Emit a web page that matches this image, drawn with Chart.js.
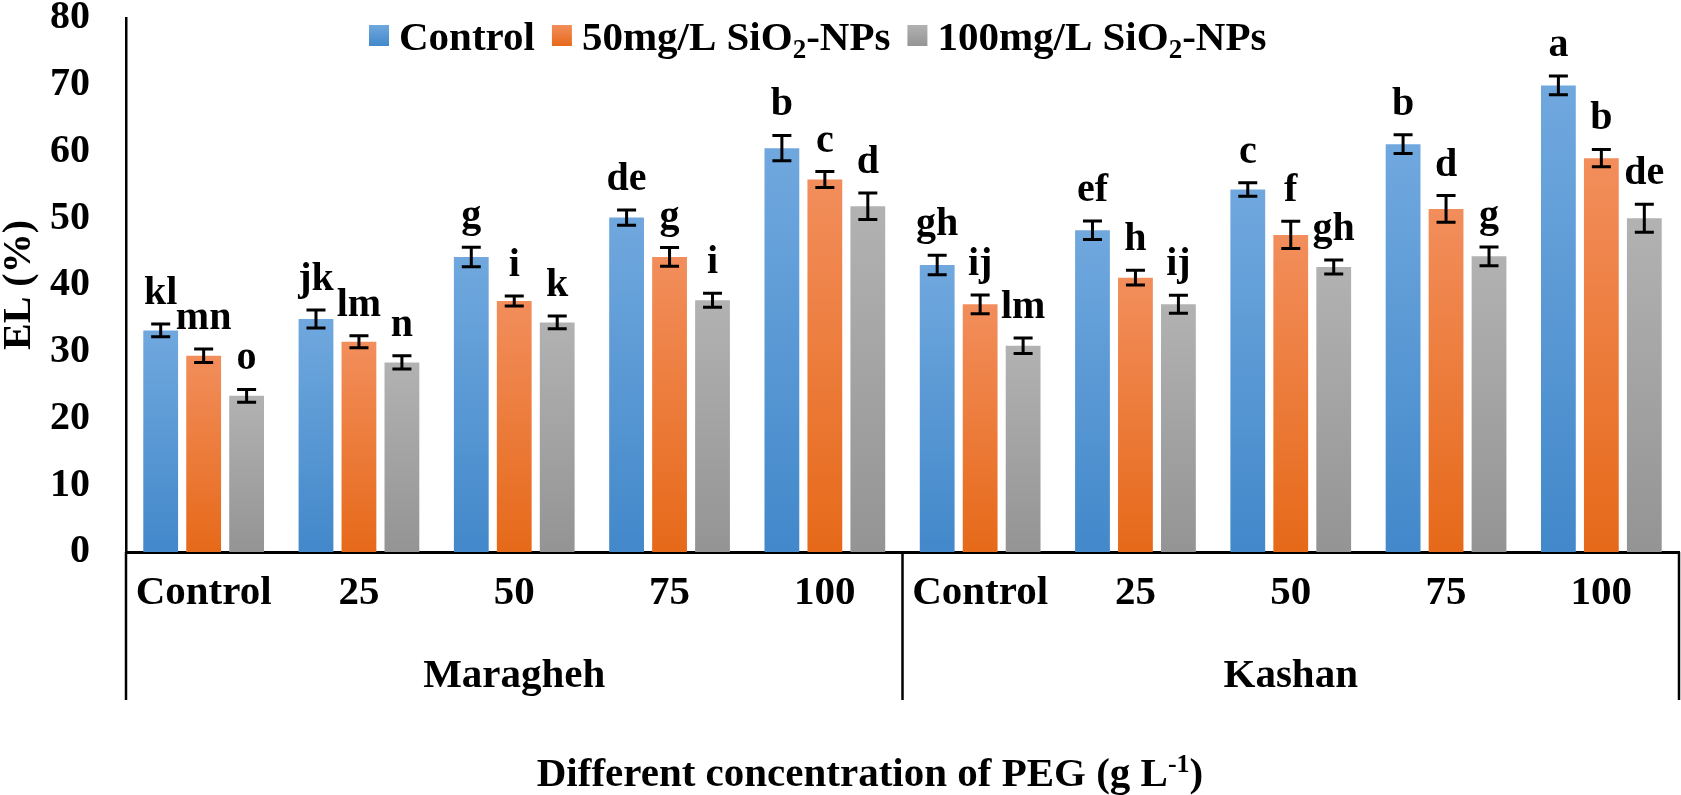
<!DOCTYPE html>
<html>
<head>
<meta charset="utf-8">
<script src="https://cdn.jsdelivr.net/npm/chart.js@4.4.1/dist/chart.umd.min.js"></script>
<style>
  html, body { margin: 0; padding: 0; background: #fff; }
  #wrap { width: 1681px; height: 795px; position: relative; }
</style>
</head>
<body>
<div id="wrap"><canvas id="c"></canvas></div>
<script>
// ---- data ----
const categories = ['Control', '25', '50', '75', '100', 'Control', '25', '50', '75', '100'];
const groups = ['Maragheh', 'Kashan'];
const seriesNames = ['Control', '50mg/L SiO₂-NPs', '100mg/L SiO₂-NPs'];

const controlValues = [33.2, 34.9, 44.2, 50.1, 60.5, 43.0, 48.2, 54.3, 61.1, 69.9];
const np50Values    = [29.4, 31.5, 37.6, 44.2, 55.8, 37.1, 41.1, 47.5, 51.4, 59.0];
const np100Values   = [23.4, 28.4, 34.4, 37.7, 51.8, 30.9, 37.1, 42.7, 44.3, 50.0];

const controlErrors = [0.95, 1.35, 1.45, 1.15, 1.9, 1.45, 1.4, 1.0, 1.4, 1.4];
const np50Errors    = [1.0, 0.9, 0.75, 1.4, 1.2, 1.4, 1.1, 2.05, 2.0, 1.3];
const np100Errors   = [0.95, 1.0, 0.95, 1.05, 2.0, 1.15, 1.35, 1.05, 1.4, 2.1];

const controlLetters = ['kl', 'jk', 'g', 'de', 'b', 'gh', 'ef', 'c', 'b', 'a'];
const np50Letters    = ['mn', 'lm', 'i', 'g', 'c', 'ij', 'h', 'f', 'd', 'b'];
const np100Letters   = ['o', 'n', 'k', 'i', 'd', 'lm', 'ij', 'gh', 'g', 'de'];

const yTitle = 'EL (%)';
const xTitleMain = 'Different concentration of PEG (g L';
const xTitleSup = '-1';
const xTitleEnd = ')';

// ---- styles ----
const FONT = '"Liberation Serif", "Times New Roman", serif';
const colorsTop = ['#70a8de', '#f28e5c', '#b2b2b2'];
const colorsBot = ['#4288ca', '#e66919', '#949494'];
const allValues = [controlValues, np50Values, np100Values];
const allErrors = [controlErrors, np50Errors, np100Errors];
const allLetters = [controlLetters, np50Letters, np100Letters];

function barGradient(i) {
  return function (ctx) {
    const chart = ctx.chart;
    const ys = chart.scales && chart.scales.y;
    if (!chart.chartArea || !ys || ctx.type !== 'data') return colorsBot[i];
    const v = ctx.raw;
    const top = ys.getPixelForValue(v);
    const bot = ys.getPixelForValue(0);
    if (!isFinite(top) || !isFinite(bot) || top === bot) return colorsBot[i];
    const g = chart.ctx.createLinearGradient(0, top, 0, bot);
    g.addColorStop(0, colorsTop[i]);
    g.addColorStop(1, colorsBot[i]);
    return g;
  };
}

function drawSubText(c, text, x, y, size) {
  const parts = text.split('₂');
  let cx = x;
  parts.forEach((p, k) => {
    c.font = 'bold ' + size + 'px ' + FONT;
    c.fillText(p, cx, y);
    cx += c.measureText(p).width;
    if (k < parts.length - 1) {
      const s = Math.round(size * 0.66);
      c.font = 'bold ' + s + 'px ' + FONT;
      c.fillText('2', cx, y + size * 0.2);
      cx += c.measureText('2').width;
    }
  });
  return cx;
}

const decorPlugin = {
  id: 'decor',
  afterDatasetsDraw(chart) {
    const c = chart.ctx;
    const ys = chart.scales.y;
    c.save();
    chart.data.datasets.forEach((ds, i) => {
      const meta = chart.getDatasetMeta(i);
      meta.data.forEach((el, j) => {
        const v = allValues[i][j], e = allErrors[i][j];
        const yt = ys.getPixelForValue(v + e);
        const yb = ys.getPixelForValue(v - e);
        const x = el.x;
        c.strokeStyle = '#000';
        c.lineWidth = 3;
        c.beginPath();
        c.moveTo(x, yt); c.lineTo(x, yb);
        c.moveTo(x - 9.5, yt); c.lineTo(x + 9.5, yt);
        c.moveTo(x - 9.5, yb); c.lineTo(x + 9.5, yb);
        c.stroke();
        c.fillStyle = '#000';
        c.font = 'bold 40px ' + FONT;
        c.textAlign = 'center';
        c.textBaseline = 'alphabetic';
        c.fillText(allLetters[i][j], x, yt - 20);
      });
    });
    c.restore();
  },
  afterDraw(chart) {
    const c = chart.ctx;
    const xs = chart.scales.x;
    const area = chart.chartArea;
    c.save();
    const lineBottom = 700;
    const sep = (xs.getPixelForValue(4) + xs.getPixelForValue(5)) / 2;
    c.strokeStyle = '#000';
    c.lineWidth = 2.5;
    c.beginPath();
    c.moveTo(area.left, area.bottom); c.lineTo(area.left, lineBottom);
    c.moveTo(sep, area.bottom); c.lineTo(sep, lineBottom);
    c.moveTo(area.right, area.bottom); c.lineTo(area.right, lineBottom);
    c.stroke();
    // group labels
    c.fillStyle = '#000';
    c.font = 'bold 41px ' + FONT;
    c.textAlign = 'center';
    c.textBaseline = 'alphabetic';
    groups.forEach((g, k) => {
      const cx = (xs.getPixelForValue(k * 5) + xs.getPixelForValue(k * 5 + 4)) / 2;
      c.fillText(g, cx, 687);
    });
    // x title with superscript
    c.textAlign = 'left';
    c.font = 'bold 41px ' + FONT;
    const w1 = c.measureText(xTitleMain).width;
    c.font = 'bold 26px ' + FONT;
    const w2 = c.measureText(xTitleSup).width;
    c.font = 'bold 41px ' + FONT;
    const w3 = c.measureText(xTitleEnd).width;
    let tx = 870 - (w1 + w2 + w3) / 2;
    c.fillText(xTitleMain, tx, 786); tx += w1;
    c.font = 'bold 26px ' + FONT;
    c.fillText(xTitleSup, tx, 772); tx += w2;
    c.font = 'bold 41px ' + FONT;
    c.fillText(xTitleEnd, tx, 786);
    // legend
    let lx = 369;
    const size = 41;
    seriesNames.forEach((name, i) => {
      const g = c.createLinearGradient(0, 25, 0, 46);
      g.addColorStop(0, colorsTop[i]);
      g.addColorStop(1, colorsBot[i]);
      c.fillStyle = g;
      c.fillRect(lx, 25, 20, 21);
      c.fillStyle = '#000';
      const end = drawSubText(c, name, lx + 30, 50, size);
      lx = end + 17;
    });
    c.restore();
  }
};

const datasets = seriesNames.map((n, i) => ({
  label: n,
  data: allValues[i],
  backgroundColor: barGradient(i),
  borderWidth: 0,
  categoryPercentage: 0.83,
  barPercentage: 0.81
}));

new Chart(document.getElementById('c'), {
  type: 'bar',
  data: { labels: categories, datasets },
  options: {
    responsive: true,
    maintainAspectRatio: false,
    animation: false,
    layout: { padding: { top: 18, right: 2, left: 0, bottom: 0 } },
    plugins: { legend: { display: false }, tooltip: { enabled: false } },
    scales: {
      x: {
        grid: { display: false, drawTicks: false },
        border: { display: true, color: '#000', width: 3 },
        ticks: {
          color: '#000',
          font: { family: FONT, size: 41, weight: 'bold' },
          padding: 17,
          maxRotation: 0,
          autoSkip: false
        },
        afterFit(s) { s.height = 243; s.paddingLeft = 0; s.paddingRight = 0; }
      },
      y: {
        min: 0, max: 80,
        grid: { display: false, drawTicks: false },
        border: { display: true, color: '#000', width: 2.5 },
        ticks: {
          stepSize: 10,
          color: '#000',
          font: { family: FONT, size: 40, weight: 'bold' },
          padding: 36
        },
        title: {
          display: true,
          text: yTitle,
          color: '#000',
          font: { family: FONT, size: 40, weight: 'bold', lineHeight: 1 },
          padding: 0
        },
        afterFit(s) { s.width = 126; s.paddingTop = 0; s.paddingBottom = 0; }
      }
    }
  },
  plugins: [decorPlugin]
});
</script>
</body>
</html>
